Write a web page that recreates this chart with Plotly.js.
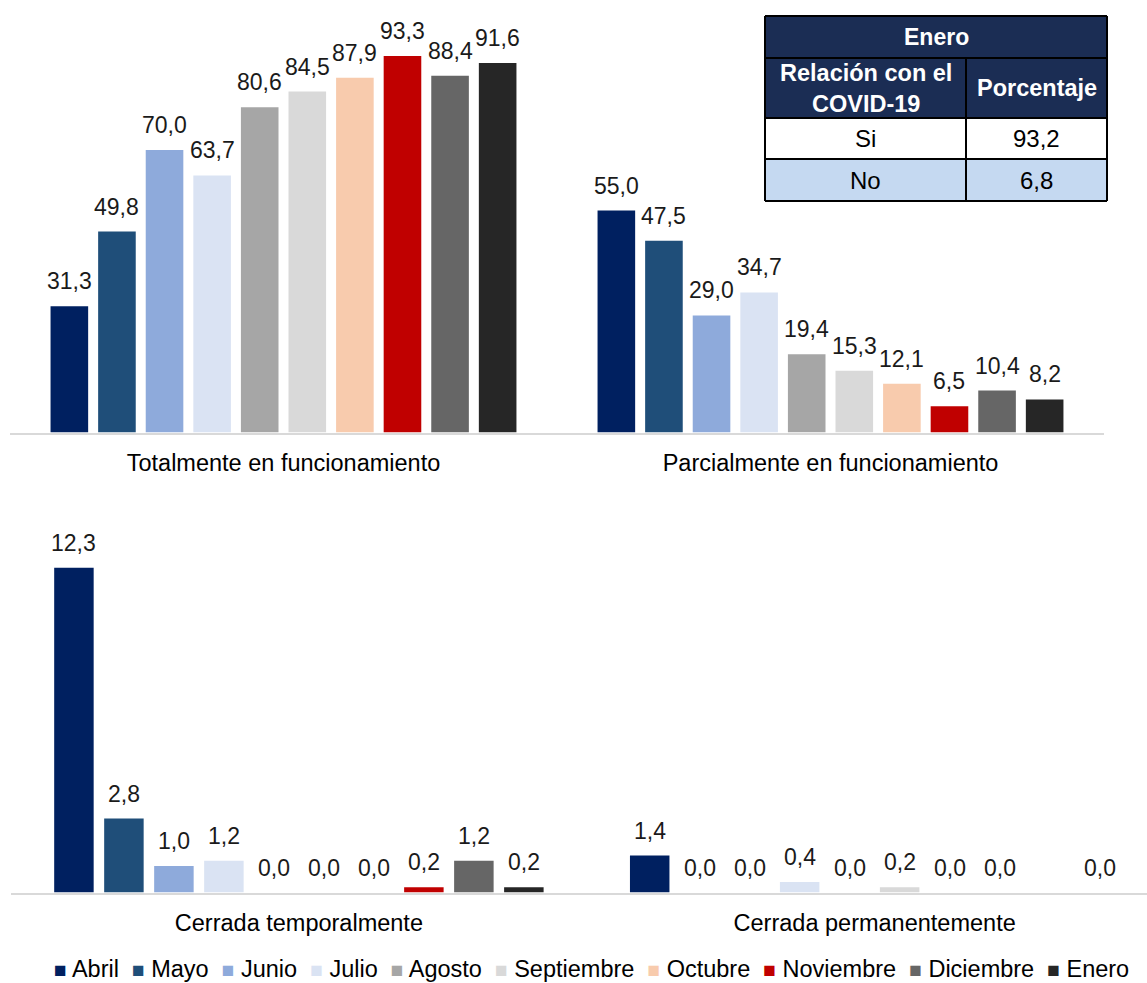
<!DOCTYPE html>
<html>
<head>
<meta charset="utf-8">
<script src="https://cdn.plot.ly/plotly-3.0.1.min.js"></script>
<style>html,body{margin:0;padding:0;background:#fff;}#chart{width:1147px;height:983px;}</style>
</head>
<body>
<div id="chart"></div>
<script>
// ---------- data ----------
const months = ['Abril','Mayo','Junio','Julio','Agosto','Septiembre','Octubre','Noviembre','Diciembre','Enero'];
const monthColors = ['#002060','#1f4e79','#8eaadb','#dae3f3','#a6a6a6','#d9d9d9','#f8cbad','#c00000','#666666','#262626'];
const categories = ['Totalmente en funcionamiento','Parcialmente en funcionamiento','Cerrada temporalmente','Cerrada permanentemente'];
const totalmente   = [31.3, 49.8, 70.0, 63.7, 80.6, 84.5, 87.9, 93.3, 88.4, 91.6];
const parcialmente = [55.0, 47.5, 29.0, 34.7, 19.4, 15.3, 12.1, 6.5, 10.4, 8.2];
const cerradaTemp  = [12.3, 2.8, 1.0, 1.2, 0.0, 0.0, 0.0, 0.2, 1.2, 0.2];
const cerradaPerm  = [1.4, 0.0, 0.0, 0.4, 0.0, 0.2, 0.0, 0.0, null, 0.0];
const tableTitle = 'Enero';
const tableHeaders = ['Relación con el<br>COVID-19', 'Porcentaje'];
const tableLabels = ['Si', 'No'];
const tableValues = [93.2, 6.8];

// ---------- layout helpers ----------
const W = 1147, H = 983;
const fx = px => px / W;
const fy = px => 1 - px / H;
const FONT = '"Liberation Sans", Arial, sans-serif';
const BARGAP = 0.13, BARGROUPGAP = 0.21;
const fmt = v => v.toFixed(1).replace('.', ',');

const panels = [
  {data: totalmente,   xa: 'x',  ya: 'y',  xd: [10, 557],  xr: [-0.5, 0.5],     base: 432.5, top: 20,  ppu: 4.035},
  {data: parcialmente, xa: 'x2', ya: 'y2', xd: [557, 1104], xr: [-0.5, 0.5],    base: 432.5, top: 20,  ppu: 4.035},
  {data: cerradaTemp,  xa: 'x3', ya: 'y3', xd: [11, 600],  xr: [-0.501, 0.524], base: 892.5, top: 530, ppu: 26.4},
  {data: cerradaPerm,  xa: 'x4', ya: 'y4', xd: [600, 1147], xr: [-0.478, 0.474], base: 892.5, top: 530, ppu: 26.4}
];

const traces = [];
const annotations = [];
const layout = {
  width: W, height: H,
  margin: {l: 0, r: 0, t: 0, b: 0, autoexpand: false},
  paper_bgcolor: '#fff', plot_bgcolor: 'rgba(0,0,0,0)',
  barmode: 'group', bargap: BARGAP, bargroupgap: BARGROUPGAP,
  font: {family: FONT, size: 23, color: '#000'},
  showlegend: false,
  shapes: [],
  annotations: annotations
};

panels.forEach((p, pi) => {
  const suffix = pi === 0 ? '' : String(pi + 1);
  layout['xaxis' + suffix] = {
    domain: [fx(p.xd[0]), fx(p.xd[1])], anchor: p.ya,
    type: 'category', range: p.xr, fixedrange: true,
    showline: true, linecolor: '#d9d9d9', linewidth: 2,
    showgrid: false, zeroline: false, ticks: '', ticklabelstandoff: 8,
    tickfont: {family: FONT, size: 23.5, color: '#000'}
  };
  layout['yaxis' + suffix] = {
    domain: [fy(p.base), fy(p.top)], anchor: p.xa,
    range: [0, (p.base - p.top) / p.ppu], fixedrange: true,
    visible: false, showgrid: false, zeroline: false
  };
  months.forEach((m, i) => {
    traces.push({
      type: 'bar', name: m, x: [categories[pi]], y: [p.data[i]],
      xaxis: p.xa, yaxis: p.ya,
      marker: {color: monthColors[i], line: {width: 0}},
      legendgroup: m, showlegend: false,
      hoverinfo: 'skip'
    });
    if (p.data[i] !== null) {
      annotations.push({
        xref: p.xa, yref: p.ya,
        x: (i - 4.5) * (1 - BARGAP) / months.length,
        y: p.data[i], xanchor: 'center', yanchor: 'middle', yshift: 25,
        text: fmt(p.data[i]), showarrow: false,
        font: {family: FONT, size: 23, color: '#1a1a1a'}
      });
    }
  });
});

// ---------- legend (one line, coloured squares) ----------
const legendText = months.map((m, i) =>
  '<span style="color:' + monthColors[i] + ';font-size:21px">■</span> ' + m
).join('  ');
annotations.push({xref: 'paper', yref: 'paper', x: fx(591), y: fy(969),
  xanchor: 'center', yanchor: 'middle', text: legendText, showarrow: false,
  font: {family: FONT, size: 23.5, color: '#000'}});

// ---------- table (shapes + annotations in paper coords) ----------
const tx0 = 765, tx1 = 1107, tcol = 966;
const rowY = [16, 58, 118, 159, 201];
const navy = '#1b2d54';
const rowFills = [navy, navy, '#ffffff', '#c5d9f1'];
rowFills.forEach((c, r) => {
  layout.shapes.push({type: 'rect', xref: 'paper', yref: 'paper',
    x0: fx(tx0), x1: fx(tx1), y0: fy(rowY[r + 1]), y1: fy(rowY[r]),
    fillcolor: c, line: {width: 0}, layer: 'above'});
});
rowY.forEach(y => layout.shapes.push({type: 'line', xref: 'paper', yref: 'paper',
  x0: fx(tx0), x1: fx(tx1), y0: fy(y), y1: fy(y), line: {color: '#000', width: 2}, layer: 'above'}));
[tx0, tx1].forEach(x => layout.shapes.push({type: 'line', xref: 'paper', yref: 'paper',
  x0: fx(x), x1: fx(x), y0: fy(rowY[0]), y1: fy(rowY[4]), line: {color: '#000', width: 2}, layer: 'above'}));
layout.shapes.push({type: 'line', xref: 'paper', yref: 'paper',
  x0: fx(tcol), x1: fx(tcol), y0: fy(rowY[1]), y1: fy(rowY[4]), line: {color: '#000', width: 2}, layer: 'above'});

const c1 = (tx0 + tcol) / 2, c2 = (tcol + tx1) / 2;
const mid = r => (rowY[r] + rowY[r + 1]) / 2;
const cellText = (x, y, text, size, color) => annotations.push({
  xref: 'paper', yref: 'paper', x: fx(x), y: fy(y), xanchor: 'center', yanchor: 'middle',
  text: text, showarrow: false, font: {family: FONT, size: size, color: color}});
cellText((tx0 + tx1) / 2, mid(0), '<b>' + tableTitle + '</b>', 23, '#fff');
cellText(c1, mid(1), '<b>' + tableHeaders[0] + '</b>', 23.5, '#fff');
cellText(c2, mid(1), '<b>' + tableHeaders[1] + '</b>', 23.5, '#fff');
tableLabels.forEach((lab, r) => {
  cellText(c1, mid(r + 2), lab, 24, '#000');
  cellText(c2, mid(r + 2), fmt(tableValues[r]), 24, '#000');
});

Plotly.newPlot('chart', traces, layout, {displayModeBar: false, staticPlot: true});
</script>
</body>
</html>
